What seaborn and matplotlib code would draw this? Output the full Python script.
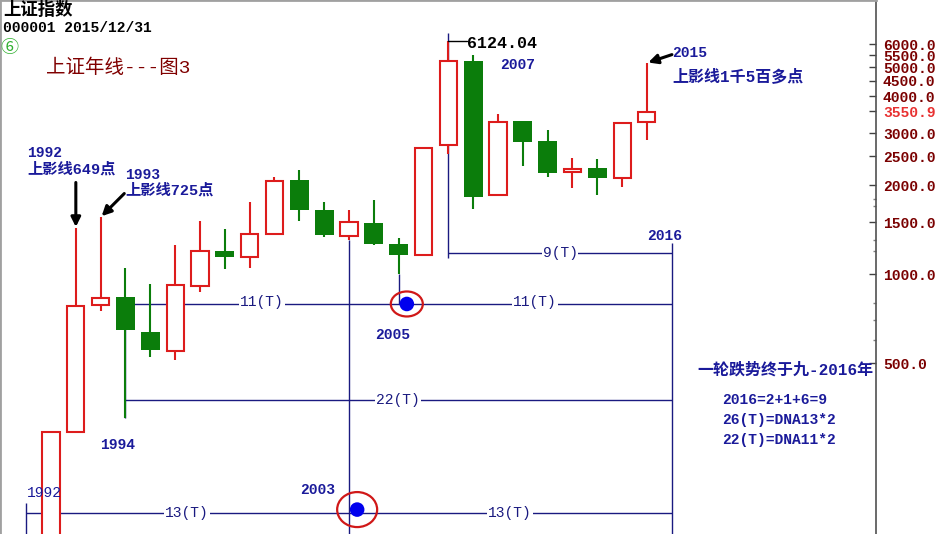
import numpy as np
import pandas as pd
import matplotlib
matplotlib.use("Agg")
import matplotlib.pyplot as plt
import seaborn as sns
from matplotlib.patches import Ellipse
from matplotlib.transforms import ScaledTranslation
from matplotlib.ticker import FixedLocator, NullFormatter

# 上证指数 年线 (1991-2015)
years = list(range(1991, 2016))
opens = [127.61, 293.75, 784.13, 837.70, 637.72, 550.26, 914.06, 1200.95, 1144.89, 1368.69,
         2077.08, 1643.49, 1347.43, 1492.72, 1260.78, 1163.88, 2728.19, 5265.00, 1849.02, 3289.75,
         2825.33, 2212.00, 2289.51, 2112.13, 3258.63]
highs = [292.75, 1429.01, 1558.95, 1052.94, 926.41, 1258.69, 1510.17, 1422.98, 1756.18, 2125.72,
         2245.44, 1748.89, 1649.60, 1783.01, 1328.53, 2698.90, 6124.04, 5522.78, 3478.01, 3306.75,
         3067.46, 2478.38, 2444.80, 3239.36, 5178.19]
lows = [104.96, 292.76, 750.46, 325.89, 524.43, 512.83, 870.18, 1043.02, 1047.83, 1361.21,
        1514.86, 1339.20, 1307.40, 1259.43, 998.23, 1161.91, 2541.52, 1664.93, 1844.09, 2319.74,
        2134.02, 1949.46, 1849.65, 1974.38, 2850.71]
closes = [292.75, 780.39, 833.80, 647.87, 555.29, 917.01, 1194.10, 1146.70, 1366.58, 2073.48,
          1645.97, 1357.65, 1497.04, 1266.50, 1161.06, 2675.47, 5261.56, 1820.81, 3277.14, 2808.08,
          2199.42, 2269.13, 2115.98, 3234.68, 3539.18]

# 周期线 (时间窗口)
cycle_h_start = [1990, 1994, 1994, 2007]
cycle_h_end = [2016, 2016, 2016, 2016]
cycle_h_level = [156, 376, 793, 1179]
cycle_v_year = [1990, 1994, 2003, 2005, 2007, 2016]
cycle_v_low = [132, 326, 132, 793, 1134, 132]
cycle_v_high = [168, 793, 1307.4, 998.23, 6537, 1278]

# 低点标记
dot_year = [2003.33, 2005.33]
dot_level = [160, 793]
dot_ring = [(40, 35), (32, 25)]

ticks = [500, 1000, 1500, 2000, 2500, 3000, 3550.9, 4000, 4500, 5000, 5500, 6000]
minor_ticks = [600, 700, 800, 1200, 1300, 1700, 1800]

df = pd.DataFrame({"year": years, "open": opens, "high": highs, "low": lows, "close": closes})
df["up"] = df["close"] >= df["open"]

RED = "#dd1c1c"
GREEN = "#0b7d0b"
NAVY = "#1a1a9a"
LINE = "#1a1a80"

sns.set_theme(style="white")
plt.rcParams["font.family"] = ["Liberation Mono", "Noto Sans CJK SC", "DejaVu Sans"]

W, H = 940, 534
fig = plt.figure(figsize=(W / 100, H / 100), dpi=100)
ax = fig.add_axes([0, 0, 876 / W, 1])
ax.set_facecolor("white")

# 影线
colors = [RED if u else GREEN for u in df["up"]]
ax.vlines(df["year"], df["low"], df["high"], colors=colors, lw=1.5, zorder=2)
# 阳线空心, 阴线实心
up = df[df["up"]]
dn = df[~df["up"]]
ax.bar(up["year"], up["close"] - up["open"], bottom=up["open"], width=0.69,
       facecolor="white", edgecolor=RED, linewidth=1.5, zorder=3)
ax.bar(dn["year"], dn["open"] - dn["close"], bottom=dn["close"], width=0.77,
       color=GREEN, linewidth=0, zorder=3)

# 周期线
ax.hlines(cycle_h_level, cycle_h_start, cycle_h_end, colors=LINE, lw=1.0, zorder=1)
ax.vlines(cycle_v_year, cycle_v_low, cycle_v_high, colors=LINE, lw=1.0, zorder=1)

# 最高点 6124.04
hi07 = df.loc[df["year"] == 2007, "high"].iloc[0]
ax.plot([2007, 2007.75], [hi07, hi07], color="black", lw=1.0, zorder=4)

sns.scatterplot(x=dot_year, y=dot_level, s=110, color="#0000ee", edgecolor="none", ax=ax, zorder=5)
for (xd, yd), (w, h) in zip(zip(dot_year, dot_level), dot_ring):
    tr = fig.dpi_scale_trans + ScaledTranslation(xd, yd, ax.transData)
    ax.add_patch(Ellipse((0, 0), w / 100, h / 100, transform=tr, fill=False,
                         edgecolor="#d01818", lw=1.6, zorder=5))

ax.set_yscale("log")
ax.set_xlim(1988.946, 2024.226)
ax.set_ylim(132.3, 8453)
ax.set_xticks([])
ax.yaxis.tick_right()
ax.set_yticks(ticks)
ax.set_yticklabels([f"{t:.1f}" for t in ticks])
ax.yaxis.set_minor_locator(FixedLocator(minor_ticks))
ax.yaxis.set_minor_formatter(NullFormatter())
ax.tick_params(axis="y", which="major", direction="in", length=5, width=1, color="#404040",
               pad=5, labelsize=10.5, labelcolor="#7a0000")
ax.tick_params(axis="y", which="minor", direction="in", length=2, width=1, color="#808080")
for lab in ax.get_yticklabels():
    lab.set_fontweight("bold")
    if lab.get_text() == "3550.9":
        lab.set_color("#e83030")

for side in ["left", "top"]:
    ax.spines[side].set_visible(True)
    ax.spines[side].set_color("#a0a0a0")
    ax.spines[side].set_linewidth(2)
ax.spines["right"].set_color("#505050")
ax.spines["right"].set_linewidth(1.2)
ax.spines["bottom"].set_visible(False)

# 箭头
arrow = dict(arrowstyle="-|>", color="black", lw=2.2, mutation_scale=14, shrinkA=0, shrinkB=1)
ax.annotate("", xy=(1992, highs[1]), xytext=(0, 33), textcoords="offset points", arrowprops=arrow)
ax.annotate("", xy=(1993, highs[2]), xytext=(17, 17), textcoords="offset points", arrowprops=arrow)
ax.annotate("", xy=(2015, highs[-1]), xytext=(18, 6), textcoords="offset points", arrowprops=arrow)


def label(x, y, s, color=NAVY, size=10.5, weight="bold", ha="left", bg=False, **kw):
    box = dict(facecolor="white", edgecolor="none", pad=0.5) if bg else None
    fig.text(x / W, 1 - y / H, s, color=color, fontsize=size, fontweight=weight,
             ha=ha, va="center", bbox=box, **kw)


label(3, 10, "上证指数", color="black", size=12.5, family=["Noto Sans CJK SC"])
label(3, 28, "000001 2015/12/31", color="black", size=10.5)
label(0, 48, "⑥", color="#30b030", size=13, weight="normal", family=["Noto Sans CJK SC", "DejaVu Sans"])
label(46, 68, "上证年线---图3", color="#800000", size=14, weight="normal")

label(27, 153, "1992")
label(27, 169, "上影线649点", size=11)
label(125, 175, "1993")
label(125, 190, "上影线725点", size=11)
label(100, 445, "1994")
label(375, 335, "2005")
label(500, 65, "2007")
label(672, 53, "2015")
label(672, 76, "上影线1千5百多点", size=11.5)
label(647, 236, "2016")
label(300, 490, "2003")
label(27, 493, "1992", weight="normal")
label(467, 43, "6124.04", color="black", size=12)

label(697, 370, "一轮跌势终于九-2016年", size=11.5)
label(722, 400, "2016=2+1+6=9")
label(722, 420, "26(T)=DNA13*2")
label(722, 440, "22(T)=DNA11*2")

for x, y, s in [(187, 513, "13(T)"), (510, 513, "13(T)"), (398, 400, "22(T)"),
                (262, 302, "11(T)"), (535, 302, "11(T)"), (560, 253, "9(T)")]:
    label(x, y, s, color=LINE, size=10.5, weight="normal", ha="center", bg=True)

fig.savefig("out.png", dpi=100, facecolor="white")
